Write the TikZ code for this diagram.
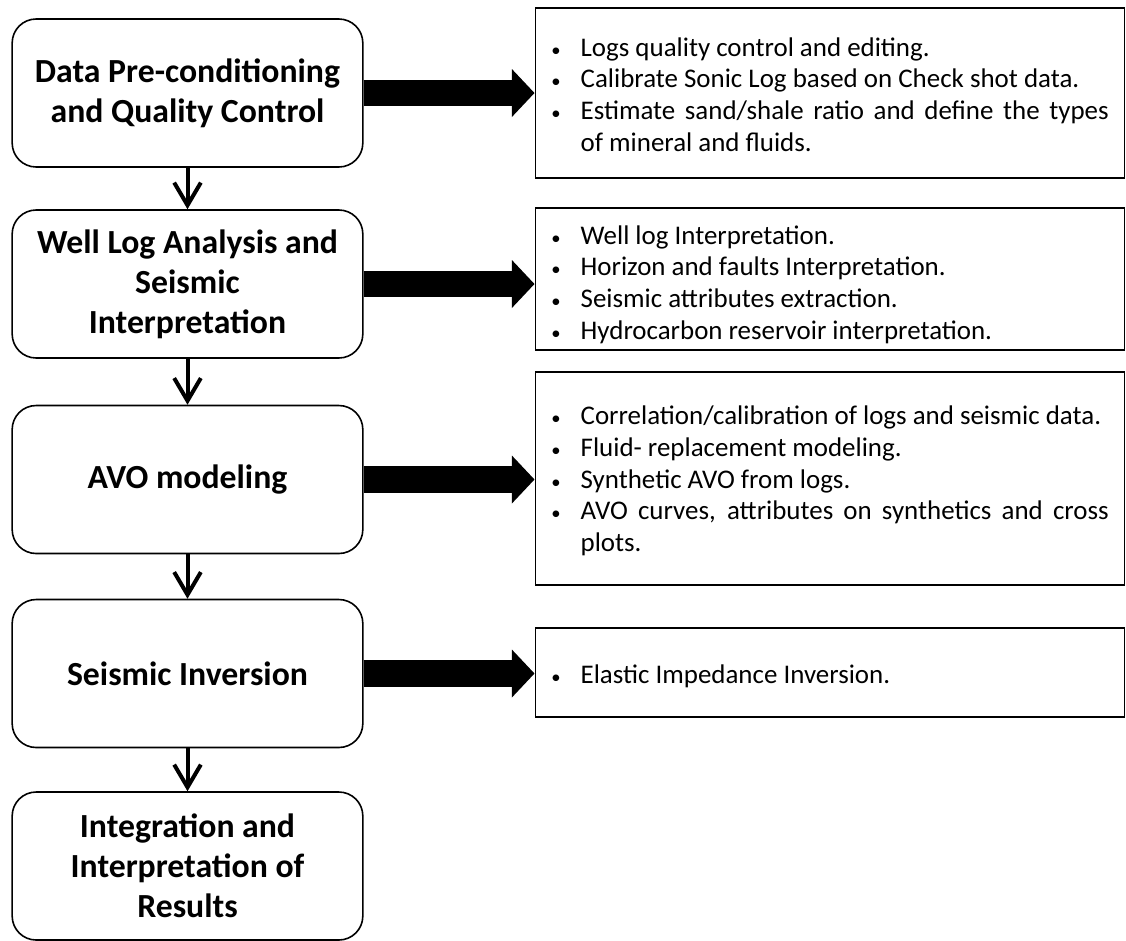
\documentclass[tikz,border=0pt]{standalone}
\usepackage{fontspec}
\setmainfont{Carlito}
\usepackage{enumitem}
\usetikzlibrary{arrows.meta}

\setlist[itemize]{label={\fontsize{14}{14}\selectfont\textbullet}, nosep, leftmargin=22pt, labelwidth=22pt, labelsep=0pt, align=left}

\begin{document}
\begin{tikzpicture}[x=0.75pt, y=-0.75pt,
    stagebox/.style={draw, line width=1.2pt, rounded corners=18pt, minimum width=263pt, minimum height=111pt, align=center, font=\fontsize{25.3}{30}\selectfont\bfseries},
    taskbox/.style={draw, line width=1.2pt, text width=418pt, inner xsep=12pt, align=justify, font=\fontsize{20.2}{23.7}\selectfont},
    bigarrow/.style={line width=20pt, -{Triangle[length=17pt, width=35pt]}},
    downarrow/.style={line width=3pt, -{Straight Barb[length=17pt, width=20pt]}}]

    % --- Frame ---
    \useasboundingbox (0,0) rectangle (1126,940);

    % --- Stages (left column) ---
    \node[stagebox] (prep)  at (187.5,93)    {Data Pre-conditioning\\and Quality Control};
    \node[stagebox] (wells) at (187.5,284)   {Well Log Analysis and\\Seismic\\Interpretation};
    \node[stagebox] (avo)   at (187.5,479.5) {AVO modeling};
    \node[stagebox] (inv)   at (187.5,673.5) {Seismic Inversion};
    \node[stagebox] (integ) at (187.5,866)   {Integration and\\Interpretation of\\Results};

    % --- Tasks (right column) ---
    \node[taskbox, minimum height=127.5pt] (prepTasks) at (830,93) {%
      \begin{itemize}
        \item Logs quality control and editing.
        \item Calibrate Sonic Log based on Check shot data.
        \item Estimate sand/shale ratio and define the types\linebreak of mineral and fluids.
      \end{itemize}\par\kern7.5pt};
    \node[taskbox, minimum height=103.5pt] (wellsTasks) at (830,279) {%
      \begin{itemize}
        \item Well log Interpretation.
        \item Horizon and faults Interpretation.
        \item Seismic attributes extraction.
        \item Hydrocarbon reservoir interpretation.
      \end{itemize}\par\kern1.5pt};
    \node[taskbox, minimum height=160pt] (avoTasks) at (830,478.5) {%
      \begin{itemize}
        \item Correlation/calibration of logs and seismic data.
        \item Fluid- replacement modeling.
        \item Synthetic AVO from logs.
        \item AVO curves, attributes on synthetics and cross plots.
      \end{itemize}\par\kern6pt};
    \node[taskbox, minimum height=67pt] (invTasks) at (830,672.5) {%
      \begin{itemize}
        \item Elastic Impedance Inversion.
      \end{itemize}\par\kern4.5pt};

    % --- Flow between stages ---
    \draw[downarrow] (prep) -- (wells);
    \draw[downarrow] (wells) -- (avo);
    \draw[downarrow] (avo) -- (inv);
    \draw[downarrow] (inv) -- (integ);

    % --- Stage to tasks ---
    \draw[bigarrow] (prep.east) -- (prep.east -| prepTasks.west);
    \draw[bigarrow] (wells.east) -- (wells.east -| wellsTasks.west);
    \draw[bigarrow] (avo.east) -- (avo.east -| avoTasks.west);
    \draw[bigarrow] (inv.east) -- (inv.east -| invTasks.west);

\end{tikzpicture}
\end{document}
